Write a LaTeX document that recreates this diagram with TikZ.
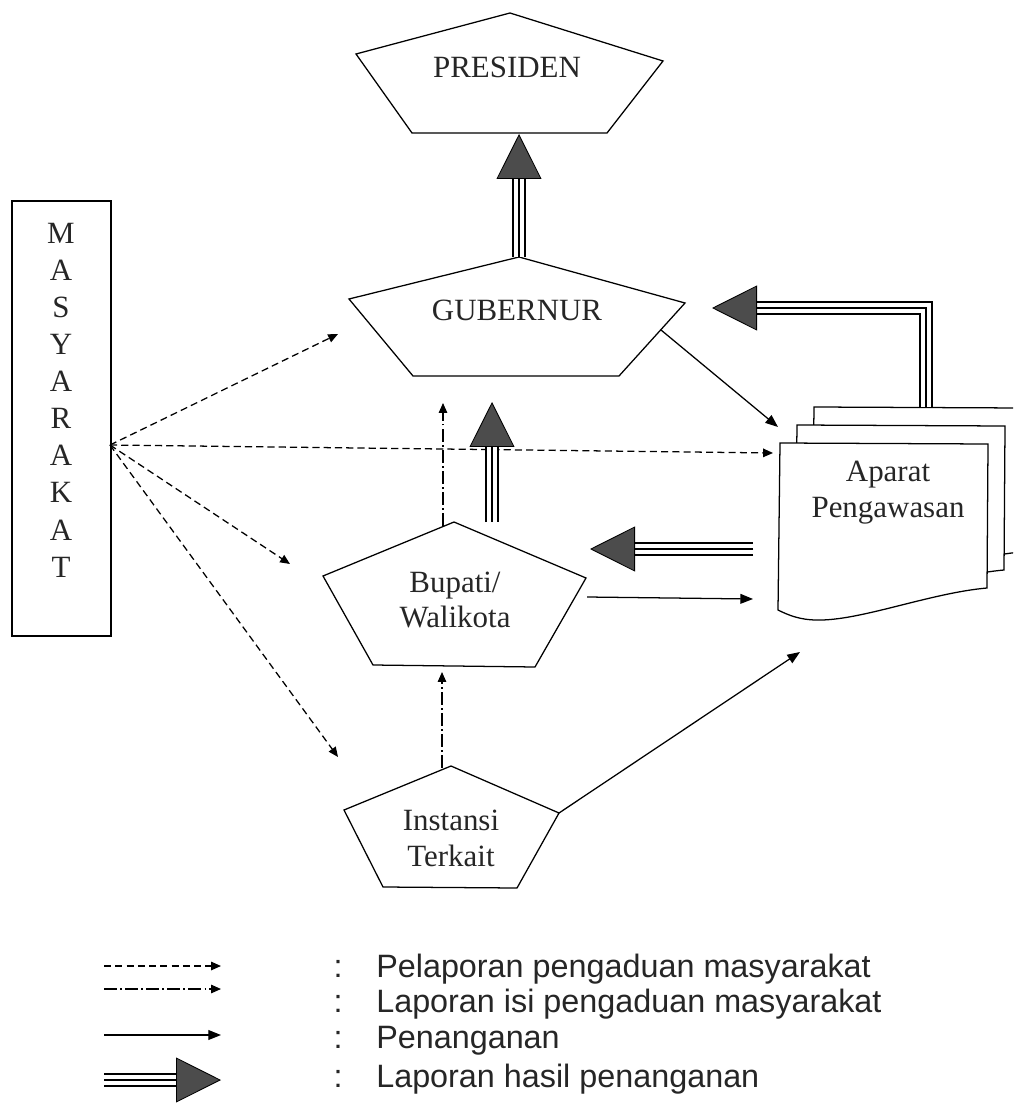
\documentclass[tikz,border=0pt]{standalone}
\usepackage{fontspec}
\setmainfont{Liberation Serif}
\newfontfamily\legendfont{Liberation Sans}
\usetikzlibrary{arrows.meta}

\tikzset{
  box/.style={draw, line width=0.9pt},
  teks/.style={font=\fontsize{22}{25.5}\selectfont, align=center, text=black!85},
  legenda/.style={font=\legendfont\fontsize{23}{27}\selectfont, text=black!85, inner sep=0pt},
  lapor/.style={line width=0.9pt, dash pattern=on 5pt off 3pt, -{Triangle[length=7pt,width=6pt]}},
  isi/.style={line width=0.8pt, dash pattern=on 9pt off 2.5pt on 1pt off 2.5pt, -{Triangle[length=7pt,width=6pt]}},
  tangan/.style={line width=0.9pt, -{Triangle[length=9pt,width=7pt]}},
  hasil/.style={line width=2pt, shorten >=31pt,
    preaction={draw, line width=10pt}, preaction={draw, white, line width=7pt}},
  kepala/.style={line width=0.6pt, -{Triangle[length=32pt,width=32pt,fill=black!70]}},
}

\begin{document}
\begin{tikzpicture}[x=0.025cm, y=-0.025cm]
  \useasboundingbox (0,0) rectangle (1013,1108);

  % masyarakat
  \node[box, minimum width=2.475cm, minimum height=10.875cm, inner sep=0pt] (masbox) at (61.5,418.5) {};
  \node[teks, font=\fontsize{22}{26.4}\selectfont] (mas) at (61,400) {M\\A\\S\\Y\\A\\R\\A\\K\\A\\T};

  % pentagons
  \draw[box] (510,13) -- (663,61) -- (607,133) -- (412,133) -- (356,54) -- cycle;
  \draw[box] (519,257) coordinate (gub-top) -- (685,303) -- (619,376) -- (413,376) -- (349,299) -- cycle;
  \draw[box] (454,522) -- (586,578) -- (535,667) -- (373,665) -- (323,576) -- cycle;
  \draw[box] (451,766) -- (559,813) -- (517,888) -- (383,887) -- (344,810) -- cycle;

  \node[teks] (pres) at (507,67) {PRESIDEN};
  \node[teks] (gub) at (517,310) {GUBERNUR};
  \node[teks] (bup) at (455,600) {Bupati/\\Walikota};
  \node[teks] (ins) at (451,838) {Instansi\\Terkait};

  % aparat pengawasan (three sheets)
  \begin{scope}
    \clip (0,0) rectangle (1013,1108);
    \foreach \dx/\dy in {34/-36, 17/-18, 0/0}
      \draw[box, fill=white, shift={(\dx,\dy)}] (780,443) -- (988,444) -- (987,588)
        .. controls (930,593) and (860,621) .. (817,620)
        .. controls (800,620) and (788,615) .. (778,610) -- cycle;
  \end{scope}
  \node[teks] (apa) at (888,493) {Aparat\\Pengawasan};

  % connector ends
  \coordinate (pres-bot) at (519,134);
  \coordinate (mas-out) at (110,445);
  \coordinate (gub-in) at (338,334);
  \coordinate (apa-in) at (773,453);
  \coordinate (bup-in) at (290,564);
  \coordinate (ins-in) at (338,757);
  \coordinate (ins-top) at (442,768);
  \coordinate (bup-bot) at (442,672);
  \coordinate (bup-top) at (443,526);
  \coordinate (gub-bot) at (443,403);
  \coordinate (gub-out) at (661,330);
  \coordinate (apa-tl) at (778,427);
  \coordinate (bup-out) at (587,597);
  \coordinate (apa-l) at (753,599);
  \coordinate (ins-out) at (559,813);
  \coordinate (apa-bl) at (800,652);
  \coordinate (bup-hs) at (492,522);
  \coordinate (gub-hs) at (492,402);
  \coordinate (apa-top) at (926,407);
  \coordinate (gub-hr) at (712,308);
  \coordinate (apa-hl) at (753,549);
  \coordinate (bup-hr) at (590,549);

  % pelaporan pengaduan
  \draw[lapor] (mas-out) -- (gub-in);
  \draw[lapor] (mas-out) -- (apa-in);
  \draw[lapor] (mas-out) -- (bup-in);
  \draw[lapor] (mas-out) -- (ins-in);

  % laporan isi pengaduan
  \draw[isi] (ins-top) -- (bup-bot);
  \draw[isi] (bup-top) -- (gub-bot);

  % penanganan
  \draw[tangan] (gub-out) -- (apa-tl);
  \draw[tangan] (bup-out) -- (apa-l);
  \draw[tangan] (ins-out) -- (apa-bl);

  % laporan hasil
  \draw[hasil] (gub-top) -- (pres-bot);
  \draw[kepala] (gub-top) -- (pres-bot);
  \draw[hasil] (bup-hs) -- (gub-hs);
  \draw[kepala] (bup-hs) -- (gub-hs);
  \draw[hasil] (apa-top) |- (gub-hr);
  \draw[kepala] (apa-top) |- (gub-hr);
  \draw[hasil] (apa-hl) -- (bup-hr);
  \draw[kepala] (apa-hl) -- (bup-hr);

  % legend
  \foreach \i/\y in {1/966, 2/989, 3/1035, 4/1080} {
    \coordinate (la\i) at (104,\y);
    \coordinate (lb\i) at (221,\y);
  }
  \draw[lapor] (la1) -- (lb1);
  \draw[isi] (la2) -- (lb2);
  \draw[tangan] (la3) -- (lb3);
  \draw[hasil] (la4) -- (lb4);
  \draw[kepala] (la4) -- (lb4);

  \foreach \i/\y/\t in {1/977/Pelaporan pengaduan masyarakat,
                        2/1012/Laporan isi pengaduan masyarakat,
                        3/1048/Penanganan,
                        4/1087/Laporan hasil penanganan} {
    \node[legenda, anchor=base] (titik\i) at (338,\y) {:};
    \node[legenda, anchor=base west] (ket\i) at (376,\y) {\t};
  }
\end{tikzpicture}
\end{document}
